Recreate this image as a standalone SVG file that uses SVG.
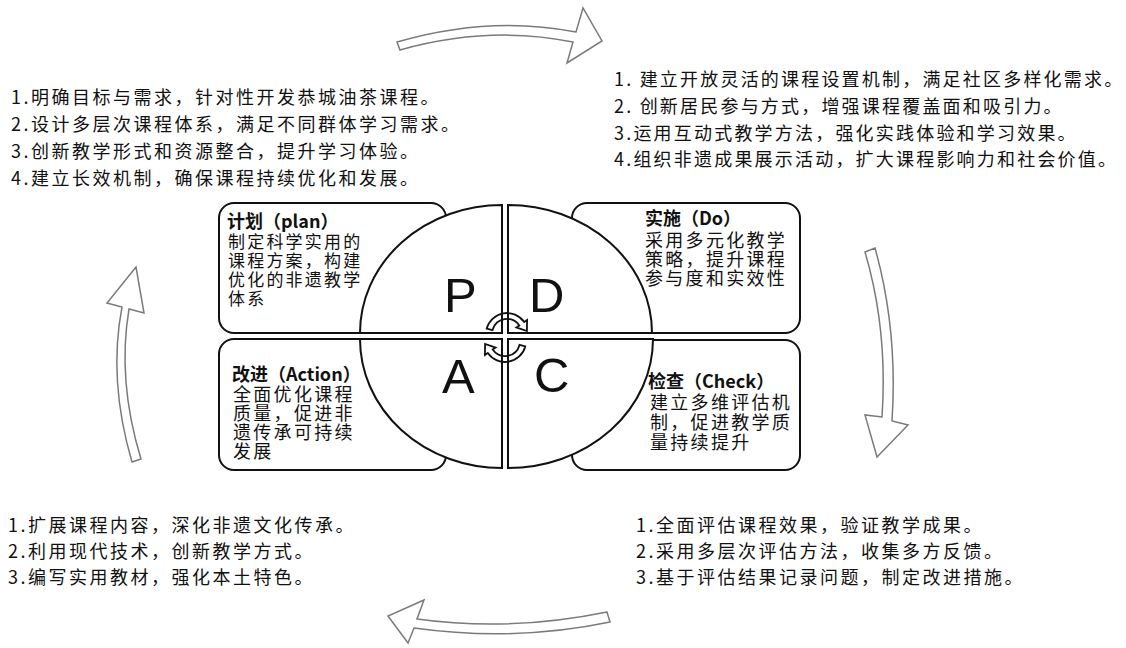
<svg xmlns="http://www.w3.org/2000/svg" width="1126" height="648" viewBox="0 0 1126 648">
<style>
.box{fill:#fff;stroke:#111;stroke-width:2}
.q{fill:#fff;stroke:#111;stroke-width:2}
.big{font-family:"Liberation Sans",Arial,sans-serif;font-size:49px;fill:#111}
.t{font-family:"Noto Sans CJK SC","Noto Sans",sans-serif;font-size:18px;letter-spacing:2.3px;fill:#111}
.o{letter-spacing:2.5px}
.r{letter-spacing:2.2px}
.s{font-size:17px;letter-spacing:2.2px}
.h{font-weight:bold;letter-spacing:0}
.arr{fill:#fff;stroke:#7a7a7a;stroke-width:1.5;stroke-linejoin:miter}
.carr{fill:none;stroke:#111;stroke-width:1.8}
</style>
<rect width="1126" height="648" fill="#fff"/>

<g id="steps-plan">
<text class="t o"><tspan x="11" y="104">1.明确目标与需求，针对性开发恭城油茶课程。</tspan><tspan x="11" y="131">2.设计多层次课程体系，满足不同群体学习需求。</tspan><tspan x="11" y="158">3.创新教学形式和资源整合，提升学习体验。</tspan><tspan x="11" y="185">4.建立长效机制，确保课程持续优化和发展。</tspan></text>
</g>
<g id="steps-do">
<text class="t r"><tspan x="614" y="86">1. 建立开放灵活的课程设置机制，满足社区多样化需求。</tspan><tspan x="614" y="113">2. 创新居民参与方式，增强课程覆盖面和吸引力。</tspan><tspan x="614" y="140">3.运用互动式教学方法，强化实践体验和学习效果。</tspan><tspan x="614" y="166">4.组织非遗成果展示活动，扩大课程影响力和社会价值。</tspan></text>
</g>
<g id="steps-action">
<text class="t o"><tspan x="8" y="532">1.扩展课程内容，深化非遗文化传承。</tspan><tspan x="8" y="558">2.利用现代技术，创新教学方式。</tspan><tspan x="8" y="584">3.编写实用教材，强化本土特色。</tspan></text>
</g>
<g id="steps-check">
<text class="t o"><tspan x="636" y="532">1.全面评估课程效果，验证教学成果。</tspan><tspan x="636" y="558">2.采用多层次评估方法，收集多方反馈。</tspan><tspan x="636" y="584">3.基于评估结果记录问题，制定改进措施。</tspan></text>
</g>

<g id="node-plan">
<rect class="box" x="219" y="203" width="227" height="130" rx="15"/>
<path class="q" d="M502 333 L360 333 A142 128 0 0 1 502 205 Z"/>
<text class="big" x="444" y="312">P</text>
<text class="t"><tspan class="h" x="227" y="228">计划（plan）</tspan><tspan class="s" x="228" y="248">制定科学实用的</tspan><tspan class="s" x="228" y="267">课程方案，构建</tspan><tspan class="s" x="228" y="286">优化的非遗教学</tspan><tspan class="s" x="228" y="305">体系</tspan></text>
</g>
<g id="node-do">
<rect class="box" x="572" y="203" width="228" height="130" rx="15"/>
<path class="q" d="M508 333 L508 205 A144 128 0 0 1 652 333 Z"/>
<text class="big" x="529" y="312">D</text>
<text class="t"><tspan class="h" x="645" y="225">实施（Do）</tspan><tspan x="645" y="247">采用多元化教学</tspan><tspan x="645" y="266">策略，提升课程</tspan><tspan x="645" y="285">参与度和实效性</tspan></text>
</g>
<g id="node-action">
<rect class="box" x="219" y="339" width="227" height="131" rx="15"/>
<path class="q" d="M502 339 L360 339 A142 129 0 0 0 502 468 Z"/>
<text class="big" x="442" y="393">A</text>
<text class="t"><tspan class="h" x="232" y="381">改进（Action）</tspan><tspan x="233" y="401">全面优化课程</tspan><tspan x="233" y="420">质量，促进非</tspan><tspan x="233" y="439">遗传承可持续</tspan><tspan x="233" y="458">发展</tspan></text>
</g>
<g id="node-check">
<rect class="box" x="572" y="340" width="228" height="130" rx="15"/>
<path class="q" d="M508 339 L653 339 A145 129 0 0 1 508 468 Z"/>
<text class="big" x="534" y="392">C</text>
<text class="t"><tspan class="h" x="648" y="388">检查（Check）</tspan><tspan x="650" y="409">建立多维评估机</tspan><tspan x="650" y="429">制，促进教学质</tspan><tspan x="650" y="449">量持续提升</tspan></text>
</g>

<g id="connectors">
<path class="arr" d="M397 42 Q490 15 576 32 L583 8 L602 41 L567 63 L573 42 Q490 25 400 50 Z"/>
<path class="arr" d="M865 252 Q888 330 882 417 L865 415 L877 457 L908 425 L892 421 Q898 330 875 248 Z"/>
<path class="arr" d="M607 612 Q510 632 417 619 L424 600 L388 616 L408 643 L414 628 Q515 642 610 622 Z"/>
<path class="arr" d="M132 462 Q108 380 122 307 L107 303 L136 267 L144 313 L129 309 Q117 380 141 459 Z"/>
<path class="carr" d="M486.7 328.6 A21 21 0 0 1 524.2 322 L527.1 320 L526.9 331.1 L516.4 327.4 L519.3 325.4 A15 15 0 0 0 492.5 330.1 Z"/>
<path class="carr" transform="rotate(180 506 337.5)" d="M486.7 328.6 A21 21 0 0 1 524.2 322 L527.1 320 L526.9 331.1 L516.4 327.4 L519.3 325.4 A15 15 0 0 0 492.5 330.1 Z"/>
</g>
</svg>
